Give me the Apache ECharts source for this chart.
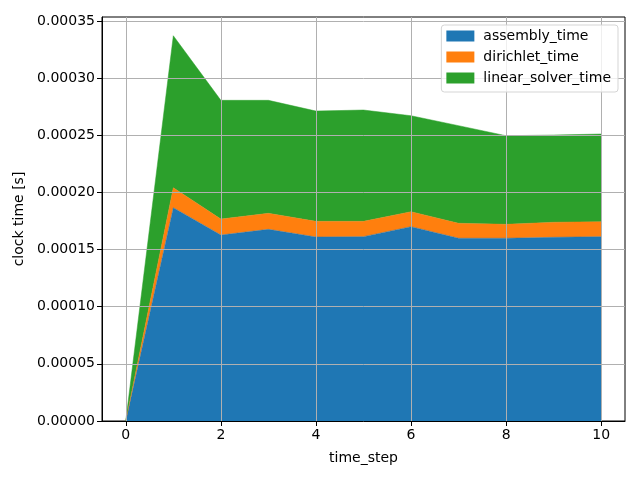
<!DOCTYPE html>
<html>
<head>
<meta charset="utf-8">
<script src="https://cdn.jsdelivr.net/npm/echarts@6/dist/echarts.min.js"></script>
<style>
html, body { margin: 0; padding: 0; background: #fff; }
#chart { width: 640px; height: 480px; }
</style>
</head>
<body>
<div id="chart"></div>
<script>
// values (seconds)
var timeSteps = ['0', '1', '2', '3', '4', '5', '6', '7', '8', '9', '10'];
var assemblyTime = [0, 0.0001866, 0.0001627, 0.0001677, 0.0001610, 0.0001613, 0.0001700, 0.0001599, 0.0001599, 0.0001607, 0.0001613];
var dirichletTime = [0, 0.0000175, 0.0000140, 0.0000140, 0.0000137, 0.0000134, 0.0000131, 0.0000131, 0.0000122, 0.0000132, 0.0000131];
var linearSolverTime = [0, 0.0001330, 0.0001039, 0.0000989, 0.0000965, 0.0000974, 0.0000840, 0.0000854, 0.0000775, 0.0000763, 0.0000767];
var yTicks = [0, 0.00005, 0.0001, 0.00015, 0.0002, 0.00025, 0.0003, 0.00035];

var seriesNames = ['assembly_time', 'dirichlet_time', 'linear_solver_time'];
var seriesValues = [assemblyTime, dirichletTime, linearSolverTime];
var colors = ['#1f77b4', '#ff7f0e', '#2ca02c'];

var myChart = echarts.init(document.getElementById('chart'));

var series = [];
for (var s = 0; s < seriesNames.length; s++) {
	series.push({
		name: seriesNames[s],
		type: 'line',
		stack: 'total',
		symbol: 'none',
		z: 2,
		lineStyle: { width: 0.5, color: colors[s] },
		areaStyle: { color: colors[s], opacity: 1 },
		itemStyle: { color: colors[s] },
		data: seriesValues[s]
	});
}

var textFont = { fontFamily: 'DejaVu Sans', fontSize: 14, color: '#000' };

var option = {
	animation: false,
	color: colors,
	grid: {
		left: 102, right: 15, top: 17, bottom: 59,
		show: true, borderColor: '#000', borderWidth: 1, backgroundColor: '#fff'
	},
	legend: {
		z: 10,
		orient: 'vertical',
		right: 22,
		top: 25,
		align: 'left',
		icon: 'rect',
		itemWidth: 28,
		itemHeight: 11,
		itemGap: 7,
		padding: [4, 7, 7, 5],
		borderColor: '#d5d5d5',
		borderWidth: 1,
		borderRadius: 3,
		backgroundColor: 'rgba(255,255,255,0.8)',
		textStyle: { fontFamily: 'DejaVu Sans', fontSize: 14, color: '#000', padding: [0, 0, 0, 4] },
		data: seriesNames
	},
	xAxis: {
		type: 'category',
		boundaryGap: true,
		data: timeSteps,
		z: 5,
		name: 'time_step',
		nameLocation: 'middle',
		nameGap: 30,
		nameTextStyle: textFont,
		axisLine: { show: true, onZero: false, lineStyle: { color: '#000' } },
		axisTick: { show: true, length: 5, interval: 1, alignWithLabel: true, lineStyle: { color: '#000' } },
		axisLabel: { margin: 7, interval: 1, fontFamily: 'DejaVu Sans', fontSize: 14, color: '#000' },
		splitLine: { show: true, interval: 1, alignWithLabel: true, lineStyle: { color: '#b0b0b0', width: 1 } }
	},
	yAxis: {
		type: 'value',
		min: 0,
		max: 0.0003535,
		z: 5,
		name: 'clock time [s]',
		nameLocation: 'middle',
		nameGap: 74,
		nameTextStyle: textFont,
		axisLine: { show: true, lineStyle: { color: '#000' } },
		axisTick: { show: true, length: 5, lineStyle: { color: '#000' }, customValues: yTicks },
		axisLabel: {
			margin: 7,
			customValues: yTicks,
			fontFamily: 'DejaVu Sans', fontSize: 14, color: '#000',
			formatter: function (v) { return v.toFixed(5); }
		},
		splitLine: { show: true, lineStyle: { color: '#b0b0b0', width: 1 } }
	},
	series: series
};

myChart.setOption(option);
</script>
</body>
</html>
